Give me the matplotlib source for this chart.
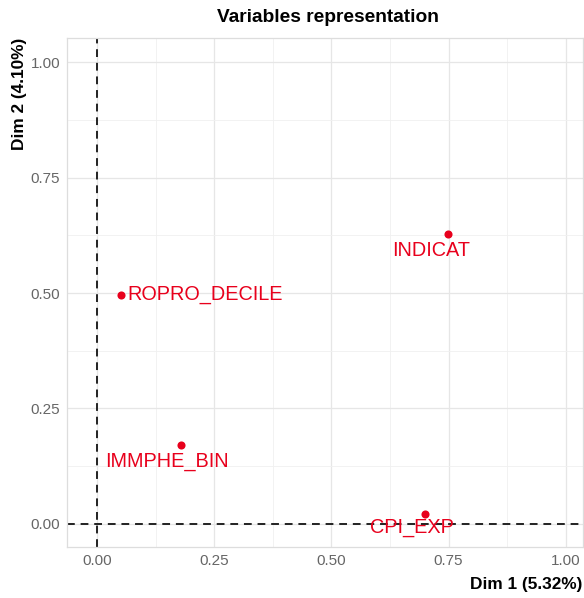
import matplotlib.pyplot as plt

plt.rcParams['font.family'] = ['Liberation Sans', 'DejaVu Sans']

# variable coordinates on the first two dimensions
variables = ["ROPRO_DECILE", "IMMPHE_BIN", "INDICAT", "CPI_EXP"]
dim1 = [0.051, 0.179, 0.748, 0.699]
dim2 = [0.496, 0.171, 0.628, 0.022]
# label offsets (points), as placed by the repel step
offsets = [(5, 0, 'left'), (-10, -12, 'center'), (-12, -12, 'center'), (-9, -10, 'center')]

ticks = [0.00, 0.25, 0.50, 0.75, 1.00]
tick_labels = ["0.00", "0.25", "0.50", "0.75", "1.00"]

fig = plt.figure(figsize=(5.84, 5.98), dpi=100)
ax = fig.add_axes([0.1147, 0.0853, 0.883, 0.851])

ax.set_xlim(-0.064, 1.036)
ax.set_ylim(-0.05, 1.052)

ax.set_xticks(ticks)
ax.set_xticklabels(tick_labels)
ax.set_yticks(ticks)
ax.set_yticklabels(tick_labels)
ax.set_xticks([0.125, 0.375, 0.625, 0.875], minor=True)
ax.set_yticks([0.125, 0.375, 0.625, 0.875], minor=True)
ax.grid(which='major', color='#e6e6e6', linewidth=0.9)
ax.grid(which='minor', color='#f0f0f0', linewidth=0.6)
ax.set_axisbelow(True)
ax.tick_params(which='both', length=0)
ax.tick_params(which='major', labelsize=11, labelcolor='#666666', pad=5)
for s in ax.spines.values():
    s.set_color('#dddddd')
    s.set_linewidth(0.9)

ax.axhline(0, color='#222222', linestyle=(0, (4, 3)), linewidth=1.4)
ax.axvline(0, color='#222222', linestyle=(0, (4, 3)), linewidth=1.4)

ax.scatter(dim1, dim2, s=34, color='#e8001c', zorder=3, linewidths=0)
for name, x, y, (dx, dy, ha) in zip(variables, dim1, dim2, offsets):
    ax.annotate(name, (x, y), xytext=(dx, dy), textcoords='offset points',
                ha=ha, va='center', color='#e8001c', fontsize=14.3, zorder=4)

fig.text(328 / 584, 1 - 17 / 598, "Variables representation", ha='center', va='center',
         fontsize=13.8, fontweight='bold')
fig.text(582 / 584, 1 - 585 / 598, "Dim 1 (5.32%)", ha='right', va='center',
         fontsize=12.4, fontweight='bold')
fig.text(20 / 584, 1 - 38 / 598, "Dim 2 (4.10%)", ha='center', va='top', rotation=90,
         fontsize=12.4, fontweight='bold')

fig.savefig("out.png", dpi=100)
